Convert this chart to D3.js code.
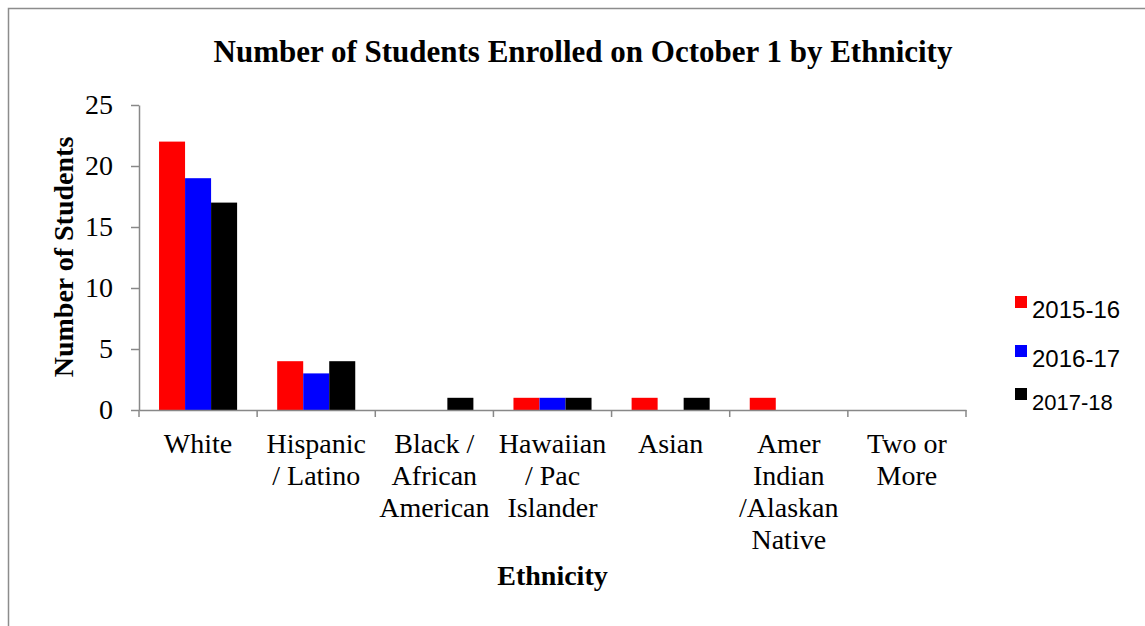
<!DOCTYPE html>
<html><head><meta charset="utf-8">
<script src="https://cdn.jsdelivr.net/npm/d3@7"></script>
<style>body{margin:0;background:#fff;overflow:hidden}</style>
</head><body>
<svg id="c" width="1145" height="626"></svg>
<script>
const categories = ["White", "Hispanic / Latino", "Black / African American", "Hawaiian / Pac Islander", "Asian", "Amer Indian /Alaskan Native", "Two or More"];
const categoryLines = [["White"], ["Hispanic", "/ Latino"], ["Black /", "African", "American"], ["Hawaiian", "/ Pac", "Islander"], ["Asian"], ["Amer", "Indian", "/Alaskan", "Native"], ["Two or", "More"]];
const seriesNames = ["2015-16", "2016-17", "2017-18"];
const seriesColors = ["#ff0000", "#0000ff", "#000000"];
const values2015 = [22, 4, 0, 1, 1, 1, 0];
const values2016 = [19, 3, 0, 1, 0, 0, 0];
const values2017 = [17, 4, 1, 1, 1, 0, 0];
const yTicks = [0, 5, 10, 15, 20, 25];

(function () {
const series = [values2015, values2016, values2017];
const svg = d3.select("#c");
const serif = "'Liberation Serif', 'DejaVu Serif', serif";

// frame
svg.append("rect").attr("x", 8.5).attr("y", 8.5).attr("width", 1200).attr("height", 700)
  .attr("fill", "none").attr("stroke", "#8c8c8c").attr("stroke-width", 1.5);

const pl = 139, pr = 966, pt = 105, pb = 410;
const x0 = d3.scaleBand().domain(categories).range([pl, pr]).padding(0);
const x1 = d3.scaleBand().domain(seriesNames).range([0, x0.bandwidth()]).paddingInner(0).paddingOuter(0.77);
const y = d3.scaleLinear().domain([0, 25]).range([pb, pt]);

// bars
seriesNames.forEach((s, si) => {
  svg.append("g").selectAll("rect").data(categories).join("rect")
    .attr("x", c => x0(c) + x1(s))
    .attr("width", x1.bandwidth())
    .attr("y", (c, i) => y(series[si][i]))
    .attr("height", (c, i) => y(0) - y(series[si][i]))
    .attr("fill", seriesColors[si]);
});

// y axis
const ya = svg.append("g").attr("transform", `translate(${pl},0)`)
  .call(d3.axisLeft(y).tickValues(yTicks).tickSize(8).tickPadding(18).tickSizeOuter(0));
ya.select(".domain").attr("stroke", "#888").attr("stroke-width", 1.5);
ya.selectAll(".tick line").attr("stroke", "#888").attr("stroke-width", 1.5);
ya.selectAll(".tick text").attr("font-family", serif).attr("font-size", 28).attr("fill", "#000");

// x axis
const xa = svg.append("g").attr("transform", `translate(0,${pb})`)
  .call(d3.axisBottom(x0).tickSize(0).tickFormat(""));
xa.select(".domain").attr("stroke", "#888").attr("stroke-width", 1.5);
const bounds = [...categories.map(c => x0(c)), pr];
xa.selectAll("line.sep").data(bounds).join("line").attr("class", "sep")
  .attr("x1", d => d).attr("x2", d => d).attr("y1", 0).attr("y2", 7)
  .attr("stroke", "#888").attr("stroke-width", 1.5);

// category labels
categories.forEach((c, i) => {
  const t = svg.append("text").attr("text-anchor", "middle")
    .attr("font-family", serif).attr("font-size", 28).attr("fill", "#000");
  categoryLines[i].forEach((ln, k) => {
    t.append("tspan").attr("x", x0(c) + x0.bandwidth() / 2).attr("y", 453 + k * 32).text(ln);
  });
});

// title
svg.append("text").attr("x", 583).attr("y", 62).attr("text-anchor", "middle")
  .attr("font-family", serif).attr("font-weight", "bold").attr("font-size", 31)
  .text("Number of Students Enrolled on October 1 by Ethnicity");

// axis titles
svg.append("text").attr("transform", "translate(73,257) rotate(-90)").attr("text-anchor", "middle")
  .attr("font-family", serif).attr("font-weight", "bold").attr("font-size", 28)
  .text("Number of Students");
svg.append("text").attr("x", (pl + pr) / 2).attr("y", 585).attr("text-anchor", "middle")
  .attr("font-family", serif).attr("font-weight", "bold").attr("font-size", 28)
  .text("Ethnicity");

// legend
const legY = [318, 367, 410];
const lg = svg.append("g");
seriesNames.forEach((s, i) => {
  lg.append("rect").attr("x", 1015).attr("y", legY[i] - 22).attr("width", 12).attr("height", 12).attr("fill", seriesColors[i]);
  lg.append("text").attr("x", 1032).attr("y", legY[i]).attr("font-family", "'Liberation Sans', Arial, sans-serif")
    .attr("font-size", i === 2 ? 22 : 24).attr("fill", "#000").text(s);
});
})();
</script>
</body></html>
